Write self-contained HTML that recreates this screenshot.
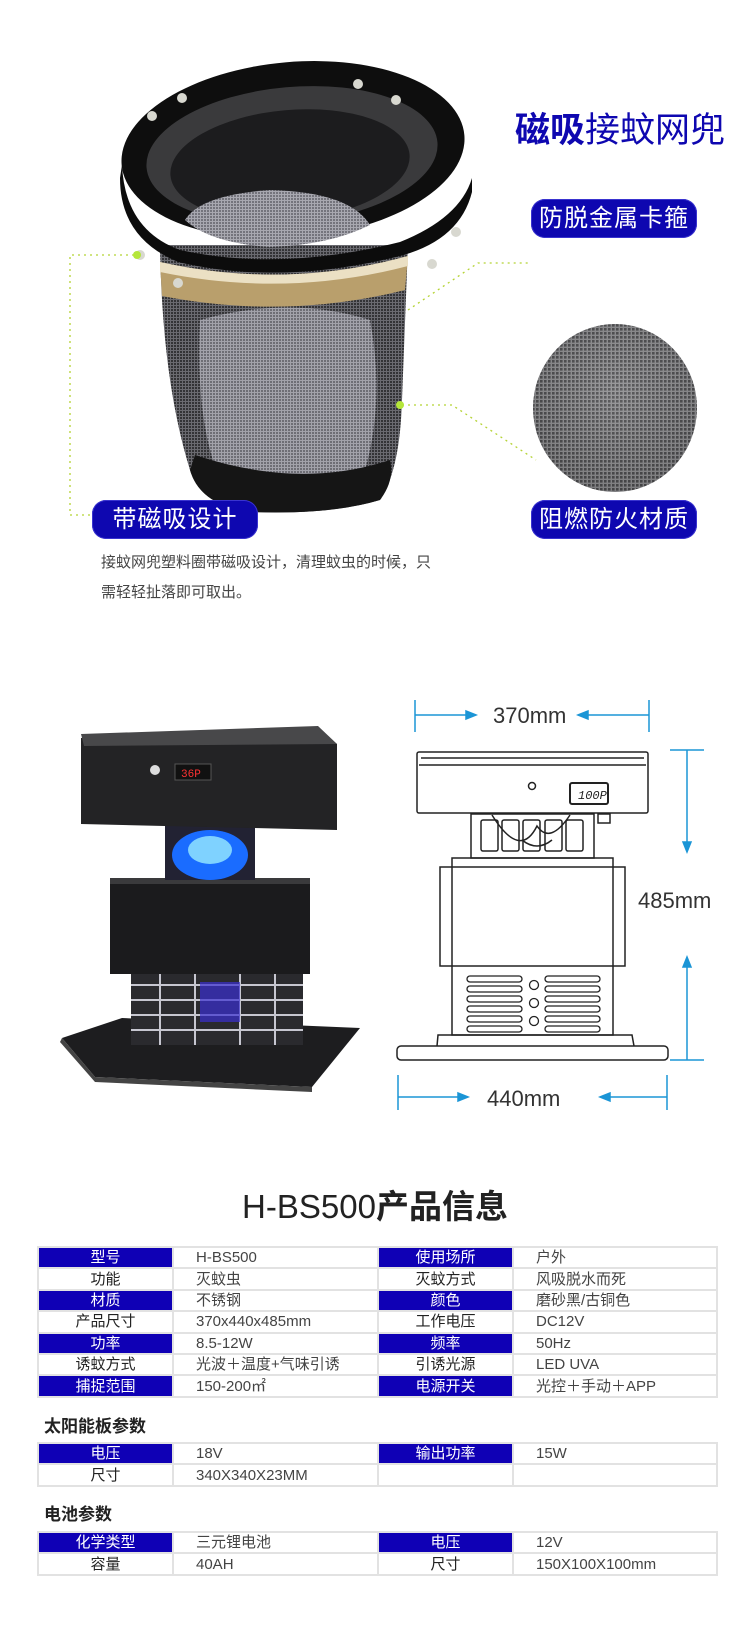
<!DOCTYPE html>
<html><head><meta charset="utf-8">
<style>
*{margin:0;padding:0;box-sizing:border-box}
body{width:750px;height:1638px;background:#fff;position:relative;overflow:hidden;font-family:"Liberation Sans","Noto Sans CJK SC",sans-serif;color:#333}
.a{position:absolute}
.pill{position:absolute;background:#0e07b0;color:#fff;border-radius:14px;font-size:24px;text-align:center;line-height:39px;height:39px;width:166px;letter-spacing:1px;box-shadow:0 0 0 1px #3a34d0 inset}
table{position:absolute;left:37px;width:679px;border-collapse:collapse;font-size:15px;table-layout:fixed}
td{height:21.4px;border:2px solid #e2e2e2;padding:0;line-height:17px;color:#444}
td.h{background:#0f00b5;color:#fff;text-align:center;border-color:#e2e2e2}
td.l{text-align:center;color:#222}
td.v{padding-left:22px}
.sec{position:absolute;left:44px;font-size:17px;font-weight:bold;color:#222}
</style></head><body>

<svg class="a" style="left:0;top:0" width="750" height="620">
 <defs>
  <pattern id="m" width="3" height="3" patternUnits="userSpaceOnUse"><rect width="3" height="3" fill="#6a6a70"/><rect width="2" height="2" fill="#333336"/></pattern>
  <pattern id="m2" width="3" height="3" patternUnits="userSpaceOnUse"><rect width="3" height="3" fill="#a8a8b0"/><rect width="2" height="2" fill="#74747c"/></pattern>
  <pattern id="m3" width="4" height="4" patternUnits="userSpaceOnUse"><rect width="4" height="4" fill="#9a9a9a"/><rect width="2.6" height="2.6" fill="#3e3e3e"/></pattern>
  <radialGradient id="rg" cx="0.5" cy="0.4" r="0.6"><stop offset="0" stop-color="#9a9aa0"/><stop offset="1" stop-color="#4a4a50"/></radialGradient>
 </defs>
 <!-- body mesh -->
 <path d="M160 245 Q162 380 190 470 Q200 505 250 512 Q330 515 380 500 Q400 470 402 400 L408 245 Z" fill="url(#m)"/>
 <path d="M200 320 Q290 295 370 320 Q385 400 365 470 Q300 500 220 480 Q195 420 200 320 Z" fill="url(#m2)" opacity="0.9"/>
 <path d="M190 470 Q200 505 250 512 Q330 515 380 500 Q395 480 390 460 Q300 490 195 455 Z" fill="#151515"/>
 <!-- gold band -->
 <path d="M160 262 Q285 290 408 256 L405 290 Q285 320 162 296 Z" fill="#b99f6c"/>
 <path d="M160 262 Q285 290 408 256 L408 266 Q285 298 160 272 Z" fill="#ebe0c4"/>
 <!-- rim -->
 <ellipse cx="293" cy="150" rx="172" ry="88" fill="#0e0e0e" transform="rotate(-5 293 150)"/>
 <ellipse cx="292" cy="155" rx="146" ry="68" fill="#3a3a3c" transform="rotate(-5 292 155)"/>
 <ellipse cx="290" cy="165" rx="120" ry="55" fill="#1c1c1e" transform="rotate(-5 290 165)"/>
 <path d="M185 220 Q200 195 270 190 Q350 192 370 225 Q330 245 270 247 Q210 243 185 220 Z" fill="url(#m2)"/>
 <path d="M122 165 Q125 230 180 250 Q280 272 400 242 Q460 218 472 178 L472 192 Q460 240 400 256 Q280 286 178 262 Q120 238 120 178 Z" fill="#0c0c0c"/>
 <g fill="#d8d8d0"><circle cx="152" cy="116" r="5"/><circle cx="182" cy="98" r="5"/><circle cx="358" cy="84" r="5"/><circle cx="396" cy="100" r="5"/><circle cx="456" cy="232" r="5"/><circle cx="432" cy="264" r="5"/><circle cx="178" cy="283" r="5"/><circle cx="140" cy="255" r="5"/></g>
 <g stroke="#b5d334" stroke-width="1.3" stroke-dasharray="2 4" fill="none">
  <polyline points="134,255 70,255 70,515 92,515"/>
  <polyline points="408,310 478,263 531,263"/>
  <polyline points="402,405 452,405 536,460"/>
 </g>
 <circle cx="137" cy="255" r="4" fill="#b5e63a"/>
 <circle cx="400" cy="405" r="4" fill="#b5e63a"/>
 <ellipse cx="615" cy="408" rx="82" ry="84" fill="url(#m3)"/>
 <ellipse cx="615" cy="408" rx="82" ry="84" fill="url(#rg)" opacity="0.35"/>
</svg>

<div class="a" style="left:515px;top:102px;font-size:35px;color:#0e07b0;white-space:nowrap"><b>磁吸</b>接蚊网兜</div>
<div class="pill" style="left:531px;top:199px">防脱金属卡箍</div>
<div class="pill" style="left:92px;top:500px">带磁吸设计</div>
<div class="pill" style="left:531px;top:500px">阻燃防火材质</div>
<div class="a" style="left:101px;top:548px;font-size:15px;line-height:30px;color:#444">接蚊网兜塑料圈带磁吸设计，清理蚊虫的时候，只<br>需轻轻扯落即可取出。</div>

<!-- product photo -->
<svg class="a" style="left:0;top:700px" width="380" height="400">
 <path d="M62 338 L122 318 L360 328 L312 387 L95 377 Z" fill="#1d1d1f"/>
 <path d="M62 338 L95 377 L312 387 L312 392 L95 382 L60 342 Z" fill="#444"/>
 <rect x="131" y="272" width="172" height="73" fill="#2a2a2e"/>
 <g stroke="#c6c6d0" stroke-width="2"><line x1="131" y1="285" x2="303" y2="285"/><line x1="131" y1="300" x2="303" y2="300"/><line x1="131" y1="315" x2="303" y2="315"/><line x1="131" y1="330" x2="303" y2="330"/><line x1="160" y1="272" x2="160" y2="345"/><line x1="195" y1="272" x2="195" y2="345"/><line x1="240" y1="272" x2="240" y2="345"/><line x1="275" y1="272" x2="275" y2="345"/></g>
 <rect x="200" y="282" width="40" height="40" fill="#3a2fd0" opacity="0.7"/>
 <rect x="110" y="178" width="200" height="96" fill="#1b1b1d"/>
 <rect x="110" y="178" width="200" height="6" fill="#3a3a3c"/>
 <rect x="165" y="120" width="90" height="60" fill="#223"/>
 <ellipse cx="210" cy="155" rx="38" ry="25" fill="#1a6cff"/>
 <ellipse cx="210" cy="150" rx="22" ry="14" fill="#7fd2ff"/>
 <path d="M81 38 L320 30 L337 44 L337 130 L81 124 Z" fill="#232325"/>
 <path d="M81 34 L318 26 L337 44 L84 46 Z" fill="#48484a"/>
 <rect x="175" y="64" width="36" height="16" fill="#111" stroke="#555"/>
 <text x="181" y="77" font-size="11" fill="#f33" font-family="Liberation Mono,monospace">36P</text>
 <circle cx="155" cy="70" r="5" fill="#ddd"/>
</svg>

<svg class="a" style="left:0;top:0" width="750" height="1120">
 <g stroke="#1b95d6" stroke-width="1.5" fill="#1b95d6">
  <line x1="415" y1="700" x2="415" y2="732" fill="none"/>
  <line x1="649" y1="700" x2="649" y2="732" fill="none"/>
  <line x1="415" y1="715" x2="470" y2="715"/><path d="M476 715 L466 711 L466 719 Z"/>
  <line x1="588" y1="715" x2="649" y2="715"/><path d="M578 715 L588 711 L588 719 Z"/>
  <line x1="670" y1="750" x2="704" y2="750"/><line x1="687" y1="750" x2="687" y2="842"/><path d="M687 852 L683 842 L691 842 Z"/>
  <line x1="670" y1="1060" x2="704" y2="1060"/><line x1="687" y1="967" x2="687" y2="1060"/><path d="M687 957 L683 967 L691 967 Z"/>
  <line x1="398" y1="1075" x2="398" y2="1110"/><line x1="667" y1="1075" x2="667" y2="1110"/>
  <line x1="398" y1="1097" x2="460" y2="1097"/><path d="M468 1097 L458 1093 L458 1101 Z"/>
  <line x1="610" y1="1097" x2="667" y2="1097"/><path d="M600 1097 L610 1093 L610 1101 Z"/>
 </g>
 <g stroke="#222" stroke-width="1.5" fill="none">
  <rect x="417" y="752" width="231" height="61" rx="2"/>
  <line x1="419" y1="765" x2="646" y2="765"/><line x1="421" y1="758" x2="644" y2="758"/>
  <circle cx="532" cy="786" r="3.5"/>
  <rect x="570" y="783" width="38" height="21" rx="2" stroke-width="2"/>
  <rect x="598" y="814" width="12" height="9"/>
  <rect x="471" y="814" width="123" height="44"/>
  <rect x="481" y="820" width="17" height="31" rx="2"/><rect x="502" y="820" width="17" height="31" rx="2"/><rect x="523" y="820" width="17" height="31" rx="2"/><rect x="545" y="820" width="17" height="31" rx="2"/><rect x="566" y="820" width="17" height="31" rx="2"/>
  <path d="M492 815 Q520 860 537 826 Q550 845 570 815"/><path d="M522 840 Q537 852 552 840"/>
  <rect x="452" y="858" width="161" height="177"/>
  <rect x="440" y="867" width="185" height="99"/>
  <g stroke-width="1.3">
   <rect x="467" y="976" width="55" height="6" rx="3"/><rect x="467" y="986" width="55" height="6" rx="3"/><rect x="467" y="996" width="55" height="6" rx="3"/><rect x="467" y="1006" width="55" height="6" rx="3"/><rect x="467" y="1016" width="55" height="6" rx="3"/><rect x="467" y="1026" width="55" height="6" rx="3"/>
   <rect x="545" y="976" width="55" height="6" rx="3"/><rect x="545" y="986" width="55" height="6" rx="3"/><rect x="545" y="996" width="55" height="6" rx="3"/><rect x="545" y="1006" width="55" height="6" rx="3"/><rect x="545" y="1016" width="55" height="6" rx="3"/><rect x="545" y="1026" width="55" height="6" rx="3"/>
   <circle cx="534" cy="985" r="4.5"/><circle cx="534" cy="1003" r="4.5"/><circle cx="534" cy="1021" r="4.5"/>
  </g>
  <path d="M437 1046 L438 1035 L632 1035 L634 1046"/>
  <rect x="397" y="1046" width="271" height="14" rx="4"/>
 </g>
 <text x="578" y="799" font-size="12" font-style="italic" fill="#222" font-family="Liberation Mono,monospace">100P</text>
 <g font-size="22" fill="#333" font-family="Liberation Sans,sans-serif">
  <text x="493" y="723">370mm</text>
  <text x="638" y="908">485mm</text>
  <text x="487" y="1106">440mm</text>
 </g>
</svg>

<div class="a" style="left:0;width:750px;top:1180px;text-align:center;font-size:33px;color:#222">H-BS500<b>产品信息</b></div>

<table style="top:1246px">
<colgroup><col style="width:135px"><col style="width:205px"><col style="width:135px"><col style="width:204px"></colgroup>
<tr><td class="h">型号</td><td class="v">H-BS500</td><td class="h">使用场所</td><td class="v">户外</td></tr>
<tr><td class="l">功能</td><td class="v">灭蚊虫</td><td class="l">灭蚊方式</td><td class="v">风吸脱水而死</td></tr>
<tr><td class="h">材质</td><td class="v">不锈钢</td><td class="h">颜色</td><td class="v">磨砂黑/古铜色</td></tr>
<tr><td class="l">产品尺寸</td><td class="v">370x440x485mm</td><td class="l">工作电压</td><td class="v">DC12V</td></tr>
<tr><td class="h">功率</td><td class="v">8.5-12W</td><td class="h">频率</td><td class="v">50Hz</td></tr>
<tr><td class="l">诱蚊方式</td><td class="v">光波＋温度+气味引诱</td><td class="l">引诱光源</td><td class="v">LED UVA</td></tr>
<tr><td class="h">捕捉范围</td><td class="v">150-200㎡</td><td class="h">电源开关</td><td class="v">光控＋手动＋APP</td></tr>
</table>

<div class="sec" style="top:1412px">太阳能板参数</div>
<table style="top:1442px">
<colgroup><col style="width:135px"><col style="width:205px"><col style="width:135px"><col style="width:204px"></colgroup>
<tr><td class="h">电压</td><td class="v">18V</td><td class="h">输出功率</td><td class="v">15W</td></tr>
<tr><td class="l">尺寸</td><td class="v">340X340X23MM</td><td></td><td></td></tr>
</table>

<div class="sec" style="top:1500px">电池参数</div>
<table style="top:1531px">
<colgroup><col style="width:135px"><col style="width:205px"><col style="width:135px"><col style="width:204px"></colgroup>
<tr><td class="h">化学类型</td><td class="v">三元锂电池</td><td class="h">电压</td><td class="v">12V</td></tr>
<tr><td class="l">容量</td><td class="v">40AH</td><td class="l">尺寸</td><td class="v">150X100X100mm</td></tr>
</table>
</body></html>
